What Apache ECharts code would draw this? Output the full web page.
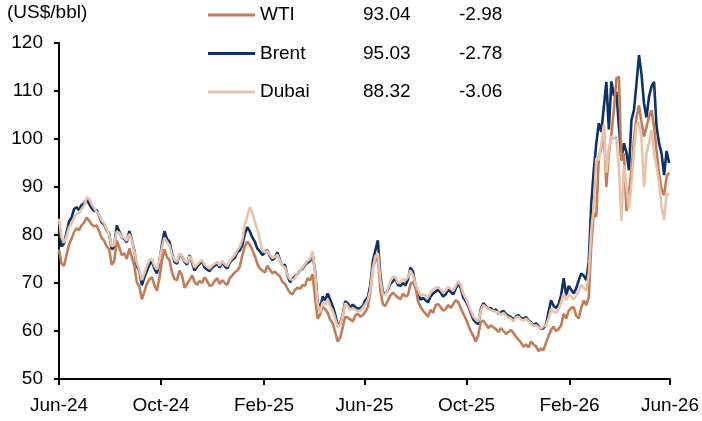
<!DOCTYPE html>
<html lang="en">
<head>
<meta charset="UTF-8">
<title>Crude oil prices</title>
<script src="https://cdn.jsdelivr.net/npm/echarts@6/dist/echarts.min.js"></script>
<style>
  html, body { margin: 0; padding: 0; background: #fff; }
  #chart { width: 702px; height: 421px; }
</style>
</head>
<body>
<div id="chart"></div>
<script>
// prices sampled every 3 days starting 1 Jun 2024 (US$/bbl)
var startDate = [2024, 5, 1];
var stepDays = 3;

var brent = [
  81.0, 77.6, 78.2, 80.5, 82.8, 83.6, 85.4, 85.8, 85.2, 86.3,
  86.6, 87.4, 86.5, 85.6, 85.0, 85.2, 84.0, 82.6, 82.2, 81.0,
  80.2, 77.0, 77.5, 82.0, 80.8, 79.5, 79.2, 78.5, 80.8, 79.0,
  76.8, 73.5, 72.6, 69.5, 71.2, 72.5, 73.8, 74.6, 73.0, 72.0,
  74.5, 78.0, 80.8, 79.2, 78.6, 76.2, 74.4, 74.0, 76.0, 75.5,
  74.4, 73.8, 75.8, 74.2, 72.6, 73.4, 74.0, 74.6, 73.2, 72.8,
  72.5, 73.2, 73.6, 74.0, 73.2, 74.4, 73.5, 73.0, 74.2, 74.8,
  75.2, 76.4, 76.8, 77.8, 80.2, 81.6, 80.8, 79.5, 78.6, 77.2,
  76.6, 75.8, 76.4, 76.8, 75.6, 74.8, 75.2, 76.4, 74.8, 73.6,
  73.8, 71.5, 70.2, 70.8, 71.4, 71.9, 72.6, 73.0, 73.8, 74.2,
  74.6, 76.0, 72.5, 66.0, 64.6, 67.2, 66.4, 67.8, 66.5, 65.2,
  63.5, 61.2, 61.6, 63.4, 66.2, 65.8, 64.8, 65.5, 65.0, 64.6,
  64.8, 65.2, 66.4, 67.0, 69.6, 74.6, 76.8, 78.9, 71.5, 68.0,
  67.8, 68.6, 69.8, 70.4, 70.9, 69.6, 69.4, 70.0, 69.5, 70.8,
  73.2, 72.4, 69.4, 67.8, 66.5, 66.9, 66.4, 66.0, 67.2, 67.8,
  68.2, 68.6, 68.0, 67.2, 67.6, 68.6, 68.2, 67.6, 68.8, 70.0,
  69.0, 67.0, 66.2, 65.2, 63.8, 62.4, 61.8, 61.4, 64.6, 65.8,
  65.2, 64.6, 64.8, 64.2, 64.5, 63.6, 63.9, 64.2, 63.5, 63.2,
  62.9, 62.4, 63.0, 63.3, 62.7, 62.6, 62.9, 62.2, 61.8, 61.2,
  61.6, 61.0, 60.5, 60.6, 61.4, 64.0, 66.4, 65.2, 64.8, 65.6,
  67.5, 71.0, 67.4, 69.4, 68.6, 67.8, 68.9, 70.6, 72.0, 71.5,
  70.6, 74.5, 86.5, 93.5, 99.1, 103.3, 101.5, 106.7, 111.9, 102.0,
  112.0, 109.0, 109.8, 102.6, 95.8, 99.1, 97.2, 93.5, 104.0, 106.0,
  111.5, 117.5, 113.5, 107.4, 104.5, 108.8, 111.0, 111.9, 102.6, 99.1,
  97.0, 92.5, 97.5, 95.0
];

var wti = [
  77.0, 74.0, 73.6, 75.8, 78.0, 79.2, 80.6, 81.4, 81.0, 82.0,
  82.6, 83.6, 83.0, 82.2, 81.8, 82.0, 80.8, 79.4, 78.8, 77.6,
  77.0, 73.8, 74.6, 78.8, 77.4, 75.8, 76.2, 75.0, 77.2, 75.4,
  73.6, 70.2, 69.2, 66.6, 68.2, 69.8, 70.8, 71.2, 69.6, 68.4,
  71.0, 74.6, 77.0, 75.4, 74.8, 72.2, 70.8, 70.6, 72.6, 71.6,
  69.0, 69.8, 70.6, 71.6, 70.2, 69.6, 70.4, 70.0, 71.2, 70.4,
  69.4, 69.6, 70.4, 71.0, 69.8, 70.6, 70.0, 69.6, 71.0, 71.6,
  72.2, 72.6, 73.4, 75.8, 77.6, 78.6, 78.0, 76.9, 75.6, 74.0,
  73.0, 72.6, 72.2, 73.6, 72.8, 72.0, 72.4, 71.8, 71.4, 70.2,
  69.8, 68.8, 68.0, 67.6, 68.6, 69.0, 68.8, 69.6, 69.4, 71.0,
  70.6, 71.8, 67.0, 62.6, 63.4, 65.0, 64.6, 63.8, 62.4, 61.6,
  59.8, 57.8, 58.6, 60.8, 63.0, 62.8, 62.4, 62.0, 63.2, 63.6,
  63.0, 63.3, 64.0, 65.0, 68.0, 73.2, 74.6, 75.4, 68.4, 65.6,
  65.2, 66.4, 67.4, 68.0, 67.4, 67.0, 66.6, 67.8, 67.2, 67.5,
  69.8, 70.2, 69.0, 66.2, 65.0, 64.2, 63.6, 63.0, 64.4, 63.8,
  65.4, 65.6, 65.0, 64.2, 64.6, 65.4, 64.8, 65.6, 66.4, 66.0,
  64.8, 63.6, 62.6, 61.2, 60.0, 59.0, 57.8, 59.2, 61.8, 62.2,
  61.4, 60.6, 61.2, 60.8, 60.4, 59.8, 60.6, 60.0, 59.4, 59.8,
  60.2, 59.6, 58.8, 58.2, 57.6, 56.7, 57.2, 56.6, 57.8, 57.2,
  56.8, 55.8, 56.4, 56.0, 57.6, 59.0, 60.2, 60.9, 60.0, 60.4,
  61.2, 63.6, 62.6, 64.2, 64.8, 65.0, 63.2, 62.6, 64.8, 66.4,
  65.4, 67.0, 78.0, 84.5, 83.8, 96.3, 98.0, 102.6, 90.0, 97.0,
  101.0, 106.0, 112.6, 113.0, 95.5, 97.0, 85.0, 88.7, 93.5, 100.0,
  104.5, 107.0, 103.5, 100.5, 102.5, 104.7, 106.0, 102.6, 97.5, 92.8,
  89.6, 88.3, 92.2, 93.0
];

var dubai = [
  83.4, 79.5, 78.4, 79.8, 81.6, 82.4, 83.6, 84.4, 84.6, 85.4,
  86.0, 87.8, 87.6, 86.4, 85.6, 84.8, 84.2, 83.0, 82.4, 81.2,
  80.0, 77.6, 78.0, 80.8, 80.4, 79.6, 79.4, 78.8, 80.2, 78.8,
  76.6, 74.2, 72.8, 70.6, 72.0, 73.6, 74.8, 75.0, 73.6, 72.8,
  74.8, 77.4, 79.4, 78.6, 77.8, 75.8, 74.8, 74.4, 76.2, 75.6,
  74.6, 74.2, 75.6, 74.6, 73.2, 73.8, 74.4, 74.8, 73.8, 73.4,
  73.0, 73.6, 74.0, 74.4, 73.6, 74.6, 73.9, 73.5, 74.5, 75.2,
  75.8, 76.8, 77.6, 79.0, 82.0, 84.0, 85.8, 84.6, 82.8, 81.2,
  79.0, 76.8, 76.4, 76.6, 75.9, 75.2, 75.4, 75.9, 74.6, 73.6,
  73.2, 71.6, 70.8, 70.6, 71.0, 72.0, 72.6, 73.2, 74.0, 74.6,
  75.0, 76.6, 72.0, 65.6, 63.8, 66.0, 65.4, 66.6, 65.2, 64.2,
  62.6, 60.8, 61.4, 63.2, 65.8, 65.2, 64.4, 64.8, 64.4, 64.2,
  64.2, 64.8, 65.6, 66.4, 68.6, 73.0, 75.6, 76.2, 70.6, 67.6,
  67.6, 68.8, 70.4, 71.4, 71.2, 70.0, 70.2, 70.8, 70.6, 71.2,
  72.6, 71.6, 69.8, 68.6, 67.4, 67.6, 67.4, 67.0, 68.0, 68.6,
  69.0, 69.2, 68.6, 68.0, 68.4, 69.2, 68.8, 68.4, 69.4, 70.4,
  69.6, 67.8, 66.8, 65.6, 64.2, 63.0, 62.4, 62.0, 64.2, 65.4,
  65.0, 64.6, 64.4, 64.2, 64.0, 63.8, 63.4, 63.8, 63.2, 62.8,
  62.6, 62.0, 62.8, 63.0, 62.4, 62.2, 62.6, 62.0, 61.6, 61.0,
  61.2, 60.8, 60.6, 61.0, 61.2, 62.6, 64.6, 64.0, 63.8, 64.6,
  66.0, 67.8, 66.4, 67.6, 67.2, 66.6, 67.4, 68.4, 69.6, 69.0,
  68.4, 72.0, 81.0, 86.0, 96.0, 95.6, 99.0, 103.0, 93.0, 98.0,
  100.5, 100.0, 100.5, 94.0, 83.0, 94.5, 90.0, 85.5, 90.5, 97.5,
  103.0, 103.5, 100.0, 90.0, 97.0, 99.1, 101.9, 97.0, 94.2, 90.8,
  85.9, 83.1, 88.7, 88.3
];

var seriesNames = ['WTI', 'Brent', 'Dubai'];
var lastPrice = ['93.04', '95.03', '88.32'];
var dayChange = ['-2.98', '-2.78', '-3.06'];

var xTickDates = ['2024-06-01', '2024-10-01', '2025-02-01', '2025-06-01', '2025-10-01', '2026-02-01', '2026-06-01'];
var xTickLabels = ['Jun-24', 'Oct-24', 'Feb-25', 'Jun-25', 'Oct-25', 'Feb-26', 'Jun-26'];

function toTime(s) {
  var p = s.split('-');
  return new Date(+p[0], +p[1] - 1, +p[2]).getTime();
}
var xTicks = xTickDates.map(toTime);

function pairs(values) {
  var out = [];
  for (var i = 0; i < values.length; i++) {
    var d = new Date(startDate[0], startDate[1], startDate[2] + i * stepDays);
    out.push([d.getTime(), values[i]]);
  }
  return out;
}

var font = '"Liberation Sans", Arial, sans-serif';
var chart = echarts.init(document.getElementById('chart'));

function lineSeries(name, values, color) {
  return {
    name: name,
    type: 'line',
    data: pairs(values),
    showSymbol: false,
    symbol: 'none',
    lineStyle: { color: color, width: 2.6 },
    itemStyle: { color: color },
    emphasis: { disabled: true }
  };
}

chart.setOption({
  animation: false,
  grid: { left: 59, right: 28, top: 43, bottom: 42 },
  graphic: [{
    type: 'text', left: 7, top: 3,
    style: { text: '(US$/bbl)', fontSize: 19, fontFamily: font, fill: '#000' }
  }],
  legend: {
    data: seriesNames,
    orient: 'vertical',
    left: 203,
    top: 0,
    icon: 'rect',
    itemWidth: 47,
    itemHeight: 3,
    itemGap: 18.5,
    formatter: function (name) {
      var k = seriesNames.indexOf(name);
      return '{n|' + name + '}{p|' + lastPrice[k] + '}{c|' + dayChange[k] + '}';
    },
    textStyle: {
      fontFamily: font, fontSize: 19, color: '#000', lineHeight: 20,
      rich: {
        n: { width: 103, fontSize: 19, fontFamily: font, lineHeight: 20 },
        p: { width: 96, fontSize: 19, fontFamily: font, lineHeight: 20 },
        c: { fontSize: 19, fontFamily: font, lineHeight: 20 }
      }
    }
  },
  xAxis: {
    // dates as timestamps on a value axis so that ticks can sit on chosen months
    type: 'value',
    min: xTicks[0],
    max: xTicks[xTicks.length - 1],
    axisLine: { lineStyle: { color: '#000', width: 2 } },
    axisTick: { show: true, length: 6, lineStyle: { color: '#000', width: 2 }, customValues: xTicks },
    axisLabel: {
      customValues: xTicks,
      margin: 17,
      fontSize: 19,
      fontFamily: font,
      color: '#000',
      formatter: function (v) {
        var k = xTicks.indexOf(v);
        return k >= 0 ? xTickLabels[k] : '';
      }
    },
    splitLine: { show: false }
  },
  yAxis: {
    type: 'value',
    min: 50,
    max: 120,
    interval: 10,
    axisLine: { show: true, lineStyle: { color: '#000', width: 2 } },
    axisTick: { show: true, length: 5, lineStyle: { color: '#000', width: 2 } },
    axisLabel: { margin: 16, fontSize: 19, fontFamily: font, color: '#000' },
    splitLine: { show: false }
  },
  series: [
    lineSeries('Brent', brent, '#0d3268'),
    lineSeries('WTI', wti, '#c47c55'),
    lineSeries('Dubai', dubai, '#e8c3ac')
  ]
});
</script>
</body>
</html>
